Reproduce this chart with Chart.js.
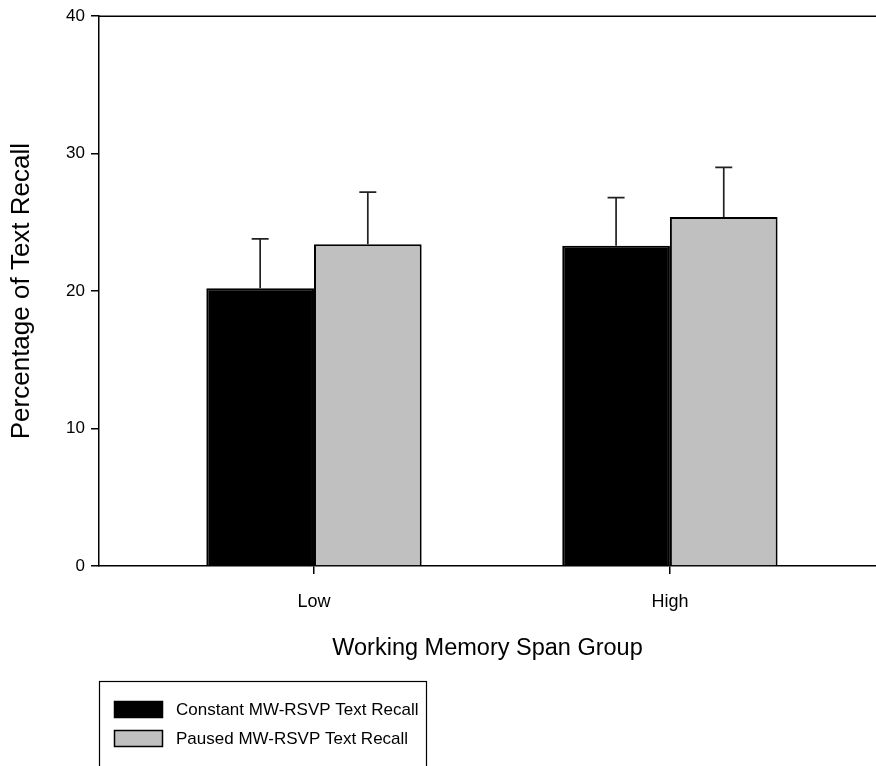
<!DOCTYPE html>
<html>
<head>
<meta charset="utf-8">
<script src="https://cdn.jsdelivr.net/npm/chart.js@4.4.1/dist/chart.umd.min.js"></script>
<style>
  html, body { margin: 0; padding: 0; background: #fff; }
  #wrap { width: 876px; height: 766px; }
</style>
</head>
<body>
<div id="wrap"><canvas id="myChart" width="876" height="766"></canvas></div>
<script>
// data
const categories = ['Low', 'High'];
const categoryPositions = [1, 2];
const constantRecall = [20.2, 23.3];
const constantError = [3.6, 3.5];
const pausedRecall = [23.4, 25.4];
const pausedError = [3.8, 3.6];
const yTicks = [0, 10, 20, 30, 40];
const seriesLabels = ['Constant MW-RSVP Text Recall', 'Paused MW-RSVP Text Recall'];

const FONT = 'Liberation Sans, Arial, sans-serif';

function toPoints(values) {
  return values.map((v, i) => ({x: categoryPositions[i], y: v}));
}

// upper error bars, drawn at the centre of every bar
const errorBars = {
  id: 'errorBars',
  afterDatasetsDraw(chart) {
    const ctx = chart.ctx;
    const yScale = chart.scales.y;
    chart.data.datasets.forEach((ds, i) => {
      const meta = chart.getDatasetMeta(i);
      meta.data.forEach((bar, j) => {
        const top = yScale.getPixelForValue(ds.data[j].y + ds.errors[j]);
        ctx.save();
        ctx.strokeStyle = '#222';
        ctx.lineWidth = 1.7;
        ctx.beginPath();
        ctx.moveTo(bar.x, bar.y);
        ctx.lineTo(bar.x, top);
        ctx.moveTo(bar.x - 8.5, top);
        ctx.lineTo(bar.x + 8.5, top);
        ctx.stroke();
        ctx.restore();
      });
    });
  }
};

// top frame line and boxed legend under the axis title
const frameAndLegend = {
  id: 'frameAndLegend',
  afterDraw(chart) {
    const ctx = chart.ctx;
    const area = chart.chartArea;
    ctx.save();
    ctx.strokeStyle = '#000';
    ctx.lineWidth = 1.5;
    ctx.beginPath();
    ctx.moveTo(area.left, area.top);
    ctx.lineTo(area.right, area.top);
    ctx.stroke();

    const boxLeft = area.left + 0.5;
    const boxTop = 681.5;
    ctx.lineWidth = 1.2;
    ctx.strokeRect(boxLeft, boxTop, 327, 120);

    ctx.font = '17px ' + FONT;
    ctx.textBaseline = 'middle';
    chart.data.datasets.forEach((ds, i) => {
      const y = 701 + i * 29;
      ctx.fillStyle = ds.backgroundColor;
      ctx.fillRect(114, y, 49, 17);
      ctx.lineWidth = 1.5;
      ctx.strokeStyle = '#000';
      ctx.strokeRect(114.5, y + 0.5, 48, 16);
      ctx.fillStyle = '#000';
      ctx.fillText(ds.label, 176, y + 9);
    });
    ctx.restore();
  }
};

new Chart(document.getElementById('myChart'), {
  type: 'bar',
  data: {
    datasets: [
      {
        label: seriesLabels[0],
        data: toPoints(constantRecall),
        errors: constantError,
        backgroundColor: '#000000',
        borderColor: '#000000',
        borderWidth: 2
      },
      {
        label: seriesLabels[1],
        data: toPoints(pausedRecall),
        errors: pausedError,
        backgroundColor: '#c0c0c0',
        borderColor: '#000000',
        borderWidth: 2
      }
    ]
  },
  options: {
    responsive: false,
    animation: false,
    devicePixelRatio: 1,
    categoryPercentage: 0.605,
    barPercentage: 1.0,
    layout: {padding: {top: 16, right: 0, left: 0, bottom: 0}},
    plugins: {
      legend: {display: false},
      tooltip: {enabled: false}
    },
    scales: {
      x: {
        type: 'linear',
        offset: false,
        min: 0.396,
        max: 2.579,
        afterBuildTicks: s => { s.ticks = categoryPositions.map(v => ({value: v})); },
        afterFit: s => { s.height = 200; },
        grid: {offset: false, drawOnChartArea: false, drawTicks: true, tickLength: 8, color: '#000', lineWidth: 1.5},
        border: {display: true, color: '#000', width: 1.5},
        ticks: {
          padding: 17,
          color: '#000',
          font: {family: FONT, size: 18},
          callback: v => categories[categoryPositions.indexOf(v)]
        },
        title: {
          display: true,
          text: 'Working Memory Span Group',
          color: '#000',
          font: {family: FONT, size: 23.5},
          padding: {top: 0, bottom: 103}
        }
      },
      y: {
        min: 0,
        max: 40,
        afterBuildTicks: s => { s.ticks = yTicks.map(v => ({value: v})); },
        afterFit: s => { s.width = 99; },
        grid: {drawOnChartArea: false, drawTicks: true, tickLength: 8, color: '#000', lineWidth: 1.5},
        border: {display: true, color: '#000', width: 1.5},
        ticks: {
          padding: 6,
          color: '#000',
          font: {family: FONT, size: 17}
        },
        title: {
          display: true,
          text: 'Percentage of Text Recall',
          color: '#000',
          font: {family: FONT, size: 26},
          padding: {top: 6, bottom: 0}
        }
      }
    }
  },
  plugins: [errorBars, frameAndLegend]
});
</script>
</body>
</html>
